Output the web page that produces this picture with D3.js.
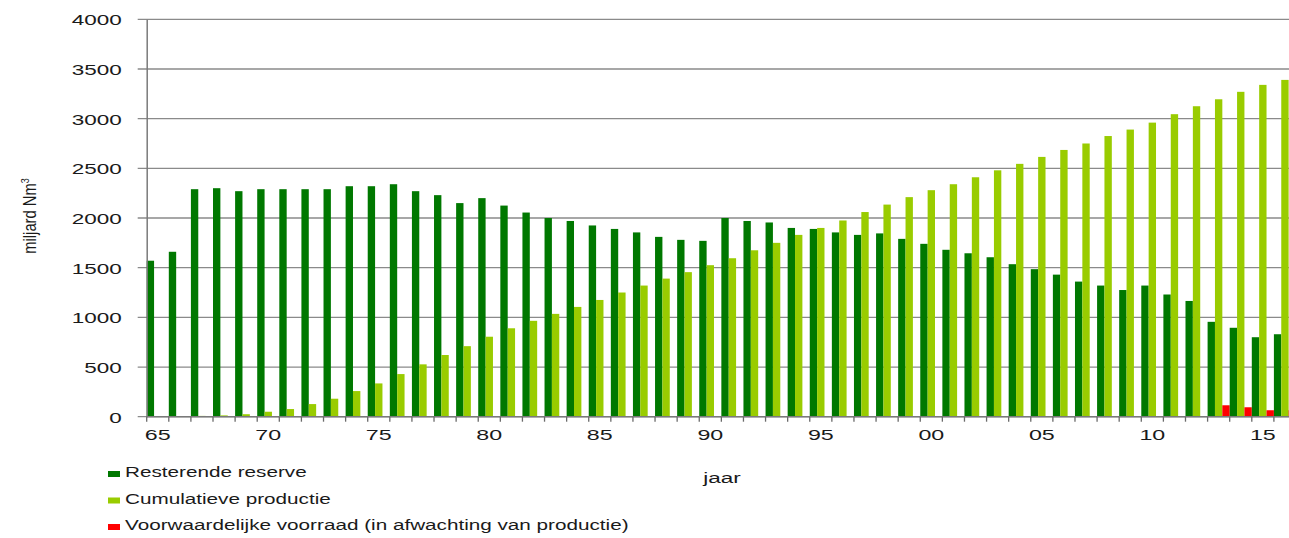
<!DOCTYPE html>
<html>
<head>
    <meta charset="utf-8">
    <title>Resterende reserve en cumulatieve productie</title>
    <script src="https://cdnjs.cloudflare.com/ajax/libs/d3/7.8.5/d3.min.js"></script>
    <style>
        body {
            margin: 0;
            background: white;
            font-family: "Liberation Sans", Arial, Helvetica, sans-serif;
        }
        svg { display: block; }
    </style>
</head>
<body>
    <svg id="chart"></svg>

    <script>
        // jaren 1965 - 2016
        const years = [1965, 1966, 1967, 1968, 1969, 1970, 1971, 1972, 1973, 1974,
                       1975, 1976, 1977, 1978, 1979, 1980, 1981, 1982, 1983, 1984,
                       1985, 1986, 1987, 1988, 1989, 1990, 1991, 1992, 1993, 1994,
                       1995, 1996, 1997, 1998, 1999, 2000, 2001, 2002, 2003, 2004,
                       2005, 2006, 2007, 2008, 2009, 2010, 2011, 2012, 2013, 2014,
                       2015, 2016];

        const reserve = [1570, 1660, 2290, 2300, 2270, 2290, 2290, 2290, 2290, 2320,
                         2320, 2340, 2270, 2230, 2150, 2200, 2125, 2055, 2000, 1970,
                         1925, 1890, 1855, 1810, 1780, 1770, 2000, 1970, 1955, 1900,
                         1890, 1855, 1830, 1845, 1790, 1740, 1680, 1645, 1605, 1535,
                         1485, 1430, 1360, 1320, 1275, 1320, 1230, 1165, 955, 895,
                         800, 830];

        const cumulative = [5, 5, 8, 13, 25, 50, 77, 127, 181, 258,
                            335, 429, 527, 621, 710, 805, 890, 965, 1035, 1105,
                            1175, 1250, 1320, 1390, 1455, 1525, 1595, 1675, 1750, 1830,
                            1900, 1975, 2060, 2135, 2210, 2280, 2340, 2410, 2480, 2545,
                            2615, 2685, 2750, 2825, 2890, 2960, 3045, 3125, 3195, 3270,
                            3340, 3390];

        const conditional = [0, 0, 0, 0, 0, 0, 0, 0, 0, 0,
                             0, 0, 0, 0, 0, 0, 0, 0, 0, 0,
                             0, 0, 0, 0, 0, 0, 0, 0, 0, 0,
                             0, 0, 0, 0, 0, 0, 0, 0, 0, 0,
                             0, 0, 0, 0, 0, 0, 0, 0, 115, 95,
                             65, 65];

        const seriesNames = ['Resterende reserve', 'Cumulatieve productie',
                             'Voorwaardelijke voorraad (in afwachting van productie)'];
        const seriesKeys = ['reserve', 'cumulative', 'conditional'];
        const colors = ['#007800', '#99cc00', '#ff0000'];
        const yTicks = [0, 500, 1000, 1500, 2000, 2500, 3000, 3500, 4000];

        const width = 1289;
        const height = 538;
        const plotLeft = 146.7;
        const plotRight = 1296;   // the last year runs off the picture
        const plotTop = 19.3;
        const plotBottom = 416.7;

        const svg = d3.select('#chart')
            .attr('width', width)
            .attr('height', height);

        const table = years.map((yr, i) => ({
            year: yr,
            reserve: reserve[i],
            cumulative: cumulative[i],
            conditional: conditional[i]
        }));

        const x = d3.scaleBand().domain(years).range([plotLeft, plotRight]).padding(0);
        const xs = d3.scaleBand().domain(seriesKeys).range([0, x.bandwidth()]).padding(0);
        const y = d3.scaleLinear().domain([0, 4000]).range([plotBottom, plotTop]);

        // gridlines
        svg.append('g')
            .selectAll('line')
            .data(yTicks)
            .join('line')
            .attr('x1', plotLeft - 9)
            .attr('x2', width)
            .attr('y1', d => y(d))
            .attr('y2', d => y(d))
            .attr('stroke', '#8a8a8a')
            .attr('stroke-width', 1.3);

        // bars
        const groups = svg.append('g')
            .selectAll('g')
            .data(table)
            .join('g')
            .attr('transform', d => `translate(${x(d.year)},0)`);

        groups.selectAll('rect')
            .data(d => seriesKeys.map((k, i) => ({ key: k, value: d[k], color: colors[i] })))
            .join('rect')
            .attr('x', d => xs(d.key))
            .attr('width', xs.bandwidth())
            .attr('y', d => y(d.value))
            .attr('height', d => y(0) - y(d.value))
            .attr('fill', d => d.color);

        // y axis
        const yAxis = svg.append('g')
            .attr('transform', `translate(${plotLeft},0)`)
            .call(d3.axisLeft(y).tickValues(yTicks).tickFormat(d3.format('d'))
                .tickSize(0).tickPadding(0));
        yAxis.select('.domain').attr('stroke', '#7a7a7a').attr('stroke-width', 1.5);
        yAxis.selectAll('.tick text')
            .attr('x', 0)
            .attr('dy', '0.36em')
            .attr('transform', 'translate(-25,0) scale(1.5,1)')
            .attr('font-size', 15)
            .attr('font-family', '"Liberation Sans", Arial, sans-serif')
            .attr('fill', '#1a1a1a');

        // x axis
        const xAxis = svg.append('g')
            .attr('transform', `translate(0,${plotBottom})`)
            .call(d3.axisBottom(x)
                .tickValues(years.filter(d => d % 5 === 0))
                .tickFormat(d => String(d % 100).padStart(2, '0'))
                .tickSize(0));
        xAxis.select('.domain').remove();
        xAxis.selectAll('.tick text')
            .attr('y', 0)
            .attr('dy', 0)
            .attr('transform', 'translate(0,23.5) scale(1.55,1)')
            .attr('font-size', 15)
            .attr('font-family', '"Liberation Sans", Arial, sans-serif')
            .attr('fill', '#1a1a1a');

        svg.append('line')
            .attr('x1', plotLeft)
            .attr('x2', width)
            .attr('y1', plotBottom)
            .attr('y2', plotBottom)
            .attr('stroke', '#7a7a7a')
            .attr('stroke-width', 1.5);

        // tick marks between years
        svg.append('g')
            .selectAll('line')
            .data(years)
            .join('line')
            .attr('x1', d => x(d))
            .attr('x2', d => x(d))
            .attr('y1', plotBottom)
            .attr('y2', plotBottom + 5)
            .attr('stroke', '#6a6a6a')
            .attr('stroke-width', 1.3);

        // axis titles
        const yTitle = svg.append('text')
            .attr('transform', 'translate(36,216) rotate(-90) scale(0.82,1)')
            .attr('text-anchor', 'middle')
            .attr('font-size', 18)
            .attr('fill', '#1a1a1a');
        yTitle.append('tspan').text('miljard Nm');
        yTitle.append('tspan').attr('font-size', 11).attr('dy', -7).text('3');

        svg.append('text')
            .attr('transform', 'translate(722,483) scale(1.5,1)')
            .attr('text-anchor', 'middle')
            .attr('font-size', 15)
            .attr('fill', '#1a1a1a')
            .text('jaar');

        // legend
        const legend = svg.append('g')
            .selectAll('g')
            .data(seriesNames)
            .join('g')
            .attr('transform', (d, i) => `translate(108,${477 + i * 26.5})`);

        legend.append('rect')
            .attr('x', 0)
            .attr('y', -6)
            .attr('width', 12)
            .attr('height', 6)
            .attr('fill', (d, i) => colors[i]);

        legend.append('text')
            .attr('transform', 'translate(17,0) scale(1.38,1)')
            .attr('font-size', 15)
            .attr('fill', '#1a1a1a')
            .text(d => d);
    </script>
</body>
</html>
